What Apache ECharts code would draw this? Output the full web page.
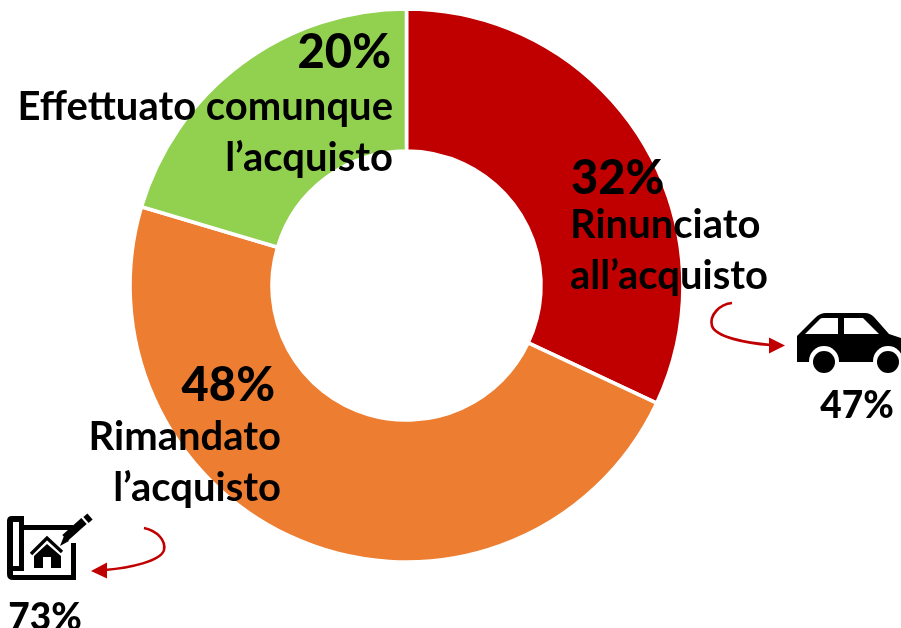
<!DOCTYPE html>
<html><head><meta charset="utf-8">
<style>html,body{margin:0;padding:0;background:#fff}#c{width:901px;height:628px}</style>
<script src="https://cdn.jsdelivr.net/npm/echarts@6/dist/echarts.min.js"></script>
</head><body><div id="c"></div>
<script>
const categories = ["Rinunciato all’acquisto", "Rimandato l’acquisto", "Effettuato comunque l’acquisto"];
const values = [32, 47.6, 20.4];
const colors = ["#C00000", "#ED7D31", "#92D050"];
const sideValues = ["47%", "73%"];
const chart = echarts.init(document.getElementById('c'), null, {renderer:'canvas'});
const FONT = 'Lato, Carlito, "Open Sans", sans-serif';
function txt(t, x, y, align, size, weight){
  return {type:'text', z:10, style:{text:t, x, y, align, verticalAlign:'middle', fontFamily:FONT, fontWeight:weight||'bold', fontSize:size, fill:'#000'}};
}
let shapeId = 0;
function abs(d, style){
  const name = 'iconShape' + (shapeId++);
  echarts.graphic.registerShape(name, echarts.graphic.extendPath(d, {}));
  return {type:name, z:10, style};
}
const pct = v => Math.round(v) + '%';
const red = '#C00000';
const graphic = [
  txt(pct(values[2]), 391, 53, 'right', 47, 900),
  txt('Effettuato comunque', 393, 107, 'right', 40),
  txt('l’acquisto', 393, 158, 'right', 40),
  txt(pct(values[0]), 571, 179, 'left', 47, 900),
  txt('Rinunciato', 570, 225, 'left', 40),
  txt('all’acquisto', 570, 276, 'left', 40),
  txt(pct(values[1]), 275, 386, 'right', 47, 900),
  txt('Rimandato', 281, 437, 'right', 40),
  txt('l’acquisto', 281, 488, 'right', 40),
  txt(sideValues[0], 857, 406, 'center', 37, 900),
  txt(sideValues[1], 45, 618, 'center', 37, 900),
  abs('M732 303 C720 304 709 315 712 326 C716 337 745 343 771 345', {fill:'none', stroke:red, lineWidth:2.6}),
  abs('M769 337.5 L785 345.5 L769 353.5 Z', {fill:red}),
  abs('M144 528 C158 531 166 541 164 550 C161 561 130 568 105 570', {fill:'none', stroke:red, lineWidth:2.6}),
  abs('M107 562.5 L91 571 L107 578.5 Z', {fill:red}),
  abs('M797 336 L815 318 Q820 313 826 313 L865 313 Q870 313 874 317 L889 334 L901 338 L901 362 L797 362 Q797 361 797 355 Z', {fill:'#000'}),
  abs('M805 334 L820 319 Q821 318 823 318 L838 318 L838 334 Z M844 318 L863 318 L879 334 L844 334 Z', {fill:'#fff'}),
  {type:'circle', z:10, shape:{cx:824,cy:361,r:15}, style:{fill:'#fff'}},
  {type:'circle', z:10, shape:{cx:888,cy:361,r:15}, style:{fill:'#fff'}},
  {type:'circle', z:10, shape:{cx:824,cy:362,r:11}, style:{fill:'#000'}},
  {type:'circle', z:10, shape:{cx:888,cy:362,r:11}, style:{fill:'#000'}},
  abs('M12 516 L24 516 L24 525 L73 525 L73 530 L24 530 L24 571 L13 571 L13 575 L71 575 L71 543 L76 543 L76 580 L13 580 Q7 580 7 574 L7 521 Q7 516 12 516 Z', {fill:'#000'}),
  {type:'rect', z:11, shape:{x:13,y:522,width:6,height:44}, style:{fill:'#fff'}},
  abs('M31 554 L47 538 L62 552', {fill:'none', stroke:'#000', lineWidth:3.4}),
  abs('M34 556 L47 544 L61 556 L61 568 L51 568 L51 557 L43 557 L43 568 L34 568 Z', {fill:'#000'}),
  abs('M60 546 L64 536 L69 541 Z', {fill:'#000'}),
  abs('M65 538 L84 521', {fill:'none', stroke:'#000', lineWidth:8}),
  abs('M86 520 L90 516.5', {fill:'none', stroke:'#000', lineWidth:8}),
];
chart.setOption({
  animation:false,
  backgroundColor:'#fff',
  series:[{
    type:'pie',
    center:[406.5,285.5],
    radius:[134.5,276.5],
    startAngle:90,
    clockwise:true,
    label:{show:false},
    labelLine:{show:false},
    itemStyle:{borderColor:'#fff',borderWidth:3.6},
    data:categories.map((name,i)=>({name,value:values[i],itemStyle:{color:colors[i]}}))
  }],
  graphic:{elements:graphic}
});
</script></body></html>
